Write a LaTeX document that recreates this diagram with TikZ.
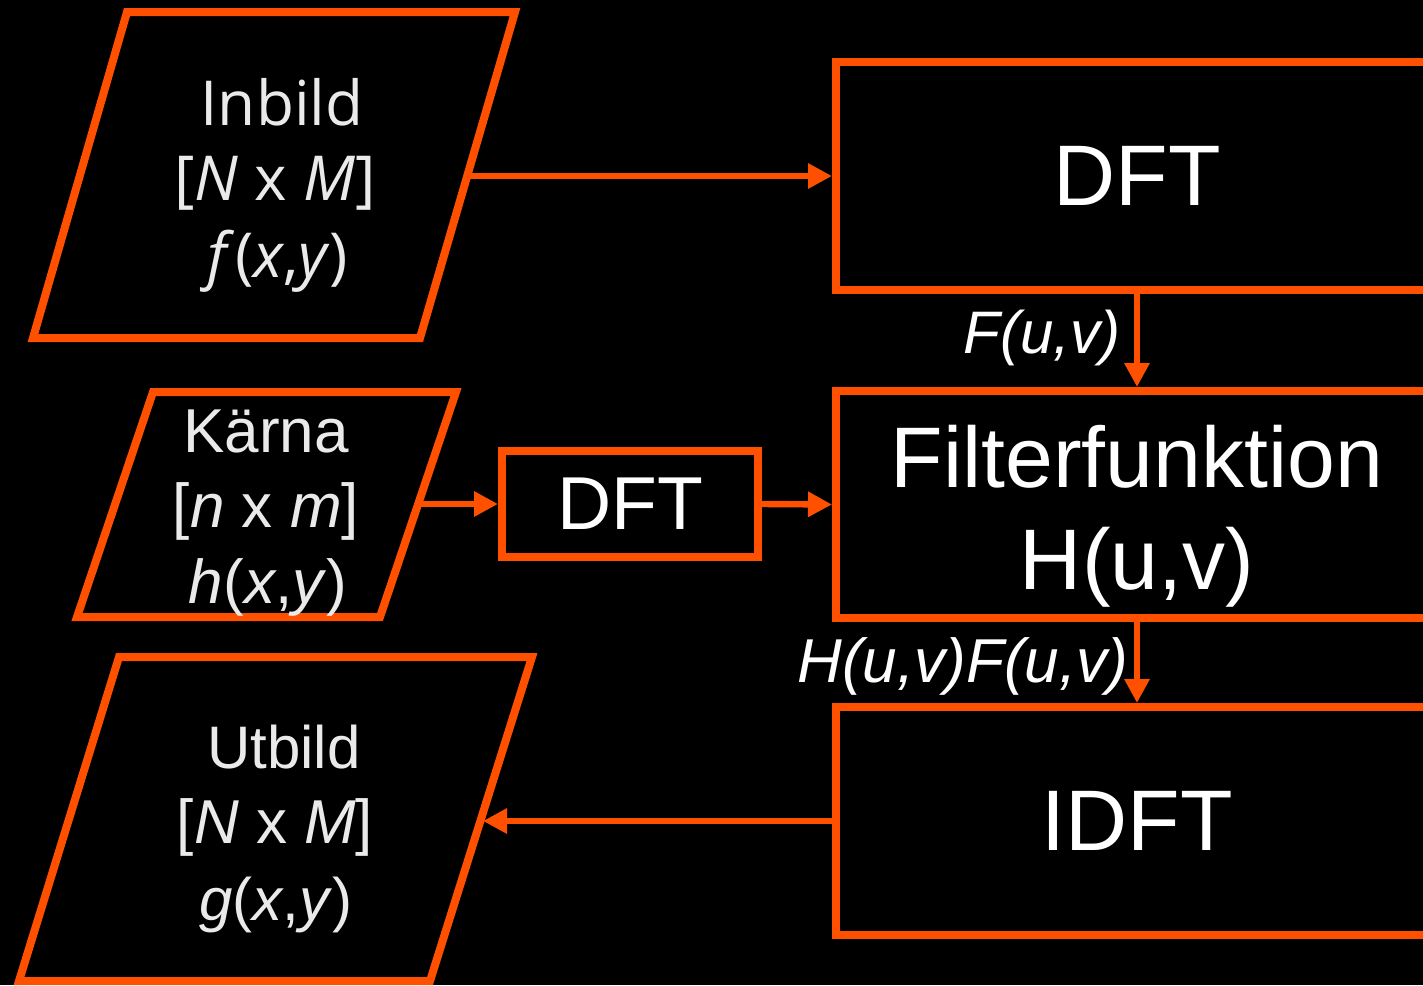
\documentclass[tikz,border=0pt]{standalone}
\usepackage{fontspec}
\setmainfont{Liberation Sans}
\newfontfamily\uisans{Open Sans}
\usetikzlibrary{arrows.meta}
\definecolor{flow}{RGB}{255,80,0}
\definecolor{softwhite}{RGB}{234,234,234}

\begin{document}
\begin{tikzpicture}[x=0.5pt,y=-0.5pt,
  box/.style={draw=flow,line width=4pt,rectangle,inner sep=0pt,
    minimum width=301pt,minimum height=114pt,text=white,
    font=\fontsize{43}{52}\selectfont},
  io/.style={draw=flow,line width=4pt},
  flowarrow/.style={draw=flow,line width=3.2pt,
    -{Triangle[length=12pt,width=12pt]}},
  intxt/.style={text=softwhite,inner sep=0pt,anchor=base,
    font=\uisans\fontsize{31}{37}\selectfont},
  kertxt/.style={text=softwhite,inner sep=0pt,anchor=base,
    font=\fontsize{31}{37}\selectfont},
  uttxt/.style={text=softwhite,inner sep=0pt,anchor=base,
    font=\fontsize{30}{36}\selectfont},
  boxtxt/.style={text=white,inner sep=0pt,anchor=base,
    font=\fontsize{43}{52}\selectfont},
  sigtxt/.style={text=white,inner sep=0pt,
    font=\itshape\fontsize{30}{36}\selectfont}
]
% canvas
\fill[black] (0,0) rectangle (1423,985);
\useasboundingbox (0,0) rectangle (1423,985);
\clip (0,0) rectangle (1423,985);

% input / output parallelograms
\draw[io] (127,12) -- (515,12) -- (420,338) -- (33,338) -- cycle;
\draw[io] (153,392) -- (456,392) -- (380,617) -- (77,617) -- cycle;
\draw[io] (119,657) -- (532,657) -- (430,981) -- (19,981) -- cycle;
\coordinate (inbout) at (467,176);
\coordinate (kerout) at (418,504);
\coordinate (utin) at (483,821);

% processing blocks
\node[box] (dft) at (1137,176) {DFT};
\node[box,minimum height=113.5pt] (filt) at (1137,504.5) {};
\node[box] (idft) at (1137,821) {IDFT};
\node[box,minimum width=128pt,minimum height=53pt,
  font=\fontsize{37.5}{45}\selectfont] (sdft) at (630,504) {DFT};

% connectors
\draw[flowarrow] (inbout) -- (dft.west);
\draw[flowarrow] (kerout) -- (sdft.west);
\draw[flowarrow] (sdft.east) -- (filt.west);
\draw[flowarrow] (dft.south) -- (filt.north);
\draw[flowarrow] (filt.south) -- (idft.north);
\draw[flowarrow] (idft.west) -- (utin);

% texts
\node[intxt] (inb1) at (282,125) {Inbild};
\node[intxt] (inb2) at (275,200) {[\textit{N} x \textit{M}]};
\node[intxt] (inb3) at (278,277) {\textit{f}(\textit{x},\textit{y})};

\node[kertxt] (ker1) at (266,452) {Kärna};
\node[kertxt] (ker2) at (266,527) {[\textit{n} x \textit{m}]};
\node[kertxt] (ker3) at (268,603) {\textit{h}(\textit{x},\textit{y})};

\node[uttxt] (ut1) at (284,768) {Utbild};
\node[uttxt,font=\fontsize{31}{37}\selectfont] (ut2) at (275,843) {[\textit{N} x \textit{M}]};
\node[uttxt] (ut3) at (276,920) {\textit{g}(\textit{x},\textit{y})};

\node[boxtxt] (filt1) at (1137,487) {Filterfunktion};
\node[boxtxt] (filt2) at (1137,589) {H(u,v)};

\node[sigtxt,anchor=base east] (flab) at (1121,353) {F(u,v)};
\node[sigtxt,anchor=base west,font=\itshape\fontsize{31}{37}\selectfont]
  (hflab) at (797,682) {H(u,v)F(u,v)};
\end{tikzpicture}
\end{document}
